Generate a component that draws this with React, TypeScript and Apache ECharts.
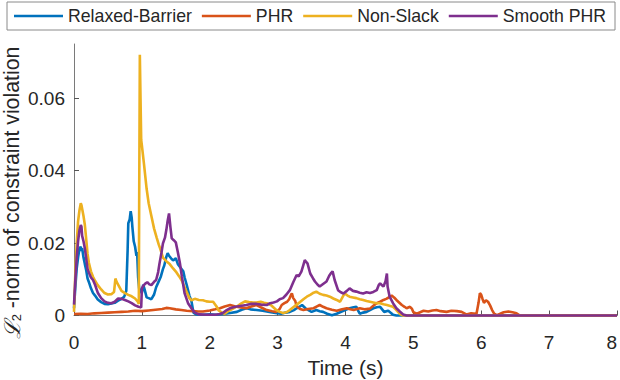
import React, { useEffect, useRef } from "react";
import * as echarts from "echarts";

const SERIES_NAMES = ["Relaxed-Barrier", "PHR", "Non-Slack", "Smooth PHR"];
const COLORS = ["#0072BD", "#D95319", "#EDB120", "#7E2F8E"];
const X_TICKS = [0, 1, 2, 3, 4, 5, 6, 7, 8];
const Y_TICKS = [0, 0.02, 0.04, 0.06];

const relaxedBarrier: [number, number][] = [
  [0, 0.002], [0.02, 0.008], [0.04, 0.013], [0.06, 0.016], [0.08, 0.0185], [0.1, 0.019], [0.11, 0.0178], [0.12, 0.0186],
  [0.14, 0.016], [0.16, 0.0142], [0.18, 0.0125], [0.2, 0.0102], [0.22, 0.0092], [0.25, 0.0075], [0.28, 0.0062], [0.31, 0.0055],
  [0.35, 0.0044], [0.4, 0.0037], [0.45, 0.0032], [0.5, 0.0031], [0.55, 0.0033], [0.6, 0.0035], [0.65, 0.0041], [0.7, 0.0046],
  [0.74, 0.0052], [0.77, 0.0068], [0.79, 0.018], [0.8, 0.0255], [0.82, 0.0265], [0.835, 0.0288], [0.85, 0.027], [0.86, 0.0245],
  [0.88, 0.0205], [0.9, 0.019], [0.92, 0.0165], [0.93, 0.0175], [0.945, 0.0105], [0.96, 0.0075], [0.98, 0.0068], [1.0, 0.0062],
  [1.02, 0.0085], [1.04, 0.0072], [1.07, 0.005], [1.1, 0.0048], [1.14, 0.0045], [1.18, 0.0058], [1.21, 0.0078], [1.25, 0.0095],
  [1.28, 0.0108], [1.31, 0.0128], [1.33, 0.0138], [1.36, 0.0162], [1.38, 0.0172], [1.4, 0.0165], [1.43, 0.0158], [1.46, 0.0152],
  [1.5, 0.0158], [1.53, 0.0142], [1.57, 0.0132], [1.61, 0.0122], [1.63, 0.0105], [1.66, 0.0085], [1.7, 0.0055], [1.73, 0.004],
  [1.76, 0.0008], [1.8, 0.0003], [1.9, 0.0002], [2.0, 0.0003], [2.1, 0.0002], [2.2, 0.0004], [2.3, 0.0007], [2.4, 0.001],
  [2.47, 0.0016], [2.54, 0.002], [2.6, 0.0017], [2.69, 0.0015], [2.78, 0.0013], [2.84, 0.0011], [2.9, 0.0009], [2.99, 0.0006],
  [3.05, 0.0005], [3.12, 0.0008], [3.18, 0.001], [3.24, 0.0015], [3.28, 0.002], [3.33, 0.0025], [3.36, 0.0029], [3.41, 0.002],
  [3.46, 0.0014], [3.5, 0.001], [3.57, 0.0015], [3.62, 0.0012], [3.67, 0.001], [3.73, 0.0005], [3.8, 0.0001], [3.87, 0.0005],
  [3.92, 0.0009], [3.97, 0.0013], [4.02, 0.0017], [4.06, 0.002], [4.12, 0.0023], [4.16, 0.0024], [4.19, 0.0012], [4.21, 0.0005],
  [4.26, 0.0008], [4.31, 0.001], [4.36, 0.0015], [4.41, 0.002], [4.46, 0.0023], [4.51, 0.0024], [4.54, 0.0017], [4.57, 0.001],
  [4.63, 0.0013], [4.67, 0.0007], [4.7, 0.0002], [4.75, 0], [8, 0],
];

const phr: [number, number][] = [
  [0, 0.0004], [0.1, 0.0005], [0.2, 0.0004], [0.3, 0.0006], [0.4, 0.0007], [0.5, 0.0008], [0.6, 0.0009], [0.7, 0.001],
  [0.8, 0.0011], [0.9, 0.0013], [1.0, 0.0012], [1.1, 0.0014], [1.2, 0.0016], [1.3, 0.0018], [1.36, 0.0021], [1.41, 0.002],
  [1.5, 0.0017], [1.58, 0.0015], [1.66, 0.0013], [1.75, 0.0012], [1.83, 0.0011], [1.9, 0.0011], [2.0, 0.0014], [2.08, 0.0017],
  [2.15, 0.002], [2.22, 0.0025], [2.3, 0.0029], [2.38, 0.0025], [2.46, 0.0022], [2.54, 0.002], [2.6, 0.0024], [2.69, 0.0029],
  [2.76, 0.0022], [2.84, 0.0015], [2.92, 0.0012], [2.98, 0.001], [3.03, 0.0018], [3.06, 0.0029], [3.1, 0.0034], [3.14, 0.0038],
  [3.17, 0.0045], [3.2, 0.0058], [3.21, 0.0061], [3.23, 0.0048], [3.26, 0.004], [3.28, 0.0025], [3.33, 0.0018], [3.38, 0.0015],
  [3.45, 0.0018], [3.53, 0.002], [3.58, 0.0025], [3.62, 0.0029], [3.67, 0.0024], [3.72, 0.002], [3.8, 0.0016], [3.87, 0.0013],
  [3.95, 0.0017], [4.02, 0.002], [4.07, 0.0017], [4.12, 0.0015], [4.17, 0.0018], [4.21, 0.002], [4.28, 0.0017], [4.36, 0.0019],
  [4.41, 0.0027], [4.46, 0.0034], [4.51, 0.0038], [4.56, 0.0043], [4.6, 0.0046], [4.63, 0.0049], [4.68, 0.0055], [4.72, 0.0049],
  [4.75, 0.0043], [4.79, 0.0036], [4.83, 0.0029], [4.87, 0.0024], [4.9, 0.002], [4.95, 0.0024], [4.98, 0.0018], [5.0, 0.0009],
  [5.05, 0.0005], [5.1, 0.0009], [5.15, 0.0013], [5.22, 0.0011], [5.28, 0.0014], [5.34, 0.0015], [5.4, 0.0012], [5.49, 0.001],
  [5.56, 0.0013], [5.64, 0.0012], [5.71, 0.001], [5.78, 0.0003], [5.85, 0.0006], [5.93, 0.0005], [5.96, 0.0035], [5.98, 0.0062],
  [6.0, 0.0057], [6.02, 0.0045], [6.04, 0.0035], [6.07, 0.0042], [6.1, 0.0038], [6.13, 0.0028], [6.16, 0.0015], [6.19, 0.0005],
  [6.23, 0.0001], [6.28, 0.0005], [6.33, 0.0009], [6.4, 0.0011], [6.46, 0.0009], [6.52, 0.0006], [6.57, 0], [8, 0],
];

const nonSlack: [number, number][] = [
  [0, 0.001], [0.02, 0.012], [0.04, 0.02], [0.06, 0.026], [0.08, 0.029], [0.1, 0.031], [0.11, 0.0305], [0.12, 0.0295],
  [0.14, 0.0275], [0.16, 0.025], [0.18, 0.021], [0.2, 0.017], [0.22, 0.0145], [0.25, 0.0122], [0.28, 0.0107], [0.31, 0.0096],
  [0.35, 0.0084], [0.4, 0.0072], [0.45, 0.0062], [0.5, 0.0058], [0.55, 0.0059], [0.59, 0.0065], [0.61, 0.0102], [0.63, 0.0092],
  [0.66, 0.0082], [0.7, 0.0068], [0.75, 0.0062], [0.8, 0.0057], [0.85, 0.0053], [0.9, 0.0047], [0.94, 0.0038], [0.955, 0.0032],
  [0.96, 0.03], [0.97, 0.072], [0.98, 0.06], [0.99, 0.0485], [1.0, 0.047], [1.03, 0.042], [1.07, 0.035], [1.1, 0.031],
  [1.14, 0.0275], [1.18, 0.024], [1.22, 0.0214], [1.25, 0.0195], [1.27, 0.0185], [1.31, 0.016], [1.36, 0.015], [1.41, 0.0142],
  [1.46, 0.013], [1.51, 0.0119], [1.55, 0.0108], [1.59, 0.0096], [1.62, 0.0082], [1.66, 0.0065], [1.7, 0.0048], [1.73, 0.0042],
  [1.78, 0.0046], [1.84, 0.0043], [1.9, 0.0042], [1.95, 0.0039], [2.0, 0.0038], [2.05, 0.0038], [2.1, 0.0025], [2.13, 0.0014],
  [2.18, 0.0008], [2.22, 0.0005], [2.27, 0.0012], [2.33, 0.0018], [2.4, 0.0025], [2.46, 0.0033], [2.52, 0.0039], [2.58, 0.0037],
  [2.64, 0.0036], [2.69, 0.0036], [2.75, 0.0038], [2.8, 0.0035], [2.84, 0.0034], [2.9, 0.0029], [2.94, 0.0022], [2.98, 0.0015],
  [3.03, 0.001], [3.08, 0.0007], [3.13, 0.0009], [3.18, 0.0015], [3.23, 0.0023], [3.28, 0.003], [3.33, 0.0037], [3.38, 0.0045],
  [3.43, 0.0052], [3.48, 0.0057], [3.53, 0.0063], [3.57, 0.0066], [3.62, 0.006], [3.67, 0.0057], [3.72, 0.0055], [3.77, 0.0052],
  [3.82, 0.0047], [3.87, 0.0043], [3.92, 0.0038], [3.96, 0.0052], [3.99, 0.0061], [4.03, 0.0055], [4.06, 0.0052], [4.11, 0.005],
  [4.16, 0.0048], [4.21, 0.0045], [4.26, 0.0043], [4.31, 0.004], [4.36, 0.0038], [4.41, 0.0036], [4.46, 0.0034], [4.51, 0.0034],
  [4.56, 0.0031], [4.61, 0.0029], [4.66, 0.0026], [4.7, 0.0024], [4.74, 0.0017], [4.77, 0.0011], [4.81, 0.0003], [4.85, 0], [8, 0],
];

const smoothPhr: [number, number][] = [
  [0, 0.003], [0.02, 0.01], [0.04, 0.016], [0.06, 0.0205], [0.08, 0.0235], [0.1, 0.025], [0.11, 0.0245], [0.12, 0.022],
  [0.14, 0.0205], [0.16, 0.0185], [0.18, 0.0158], [0.2, 0.0128], [0.22, 0.0118], [0.25, 0.0105], [0.28, 0.0098], [0.31, 0.0085],
  [0.35, 0.0063], [0.4, 0.0048], [0.45, 0.0039], [0.5, 0.0035], [0.55, 0.0034], [0.6, 0.0038], [0.65, 0.0047], [0.7, 0.0046],
  [0.75, 0.0043], [0.8, 0.0039], [0.85, 0.0034], [0.9, 0.0028], [0.95, 0.0024], [0.98, 0.0023], [0.99, 0.0022], [1.0, 0.0075],
  [1.02, 0.0082], [1.05, 0.0088], [1.08, 0.0092], [1.11, 0.0086], [1.14, 0.0084], [1.18, 0.0093], [1.21, 0.0098], [1.24, 0.012],
  [1.26, 0.0144], [1.29, 0.0175], [1.31, 0.0199], [1.34, 0.0215], [1.36, 0.0236], [1.38, 0.0262], [1.4, 0.0282], [1.42, 0.0245],
  [1.44, 0.0213], [1.47, 0.0208], [1.5, 0.0202], [1.53, 0.0175], [1.56, 0.0145], [1.59, 0.0107], [1.63, 0.0061], [1.68, 0.0034],
  [1.73, 0.002], [1.78, 0.0008], [1.84, 0.0003], [1.95, 0.0002], [2.08, 0.0002], [2.15, 0.0004], [2.2, 0.0008], [2.25, 0.0015],
  [2.3, 0.002], [2.35, 0.0023], [2.4, 0.0025], [2.47, 0.0027], [2.54, 0.0029], [2.6, 0.0032], [2.69, 0.0032], [2.76, 0.003],
  [2.84, 0.0029], [2.89, 0.0034], [2.94, 0.0036], [2.99, 0.0039], [3.03, 0.0045], [3.08, 0.0048], [3.13, 0.0058], [3.18, 0.007],
  [3.23, 0.0092], [3.28, 0.0112], [3.31, 0.0108], [3.35, 0.0121], [3.38, 0.014], [3.4, 0.0153], [3.42, 0.0148], [3.44, 0.0144],
  [3.48, 0.0116], [3.52, 0.0103], [3.55, 0.0094], [3.59, 0.0085], [3.62, 0.008], [3.67, 0.0087], [3.72, 0.0094], [3.76, 0.011],
  [3.79, 0.0118], [3.81, 0.0122], [3.84, 0.0098], [3.89, 0.007], [3.93, 0.0064], [3.97, 0.0061], [4.02, 0.0068], [4.06, 0.0075],
  [4.11, 0.0068], [4.16, 0.0066], [4.21, 0.0063], [4.26, 0.0061], [4.31, 0.0064], [4.36, 0.0062], [4.41, 0.0065], [4.46, 0.007],
  [4.49, 0.0084], [4.51, 0.0089], [4.54, 0.0083], [4.56, 0.008], [4.59, 0.0095], [4.61, 0.0116], [4.62, 0.008], [4.65, 0.0052],
  [4.7, 0.0034], [4.75, 0.002], [4.8, 0.0011], [4.85, 0.0003], [4.9, 0], [8, 0],
];

const SERIES_DATA = [relaxedBarrier, phr, nonSlack, smoothPhr];

const TEXT = "#262626";
const AXIS = "#7a7a7a";
const FONT = "'Liberation Sans', Arial, Helvetica, sans-serif";

export default function App() {
  const ref = useRef<HTMLDivElement>(null);
  useEffect(() => {
    document.body.style.margin = "0";
    const chart = echarts.init(ref.current!, undefined, { renderer: "svg" });
    chart.setOption({
      animation: false,
      backgroundColor: "#ffffff",
      textStyle: { fontFamily: FONT },
      grid: { left: 74, right: 3, top: 44, bottom: 64.5, containLabel: false, outerBoundsMode: "none" },
      legend: {
        left: 7,
        top: 2,
        padding: [5, 9, 5, 7],
        itemGap: 10,
        itemWidth: 49,
        itemHeight: 2.5,
        icon: "rect",
        borderColor: "#8a8a8a",
        borderWidth: 1,
        backgroundColor: "#ffffff",
        textStyle: { color: TEXT, fontSize: 17.7, fontFamily: FONT },
        data: SERIES_NAMES,
      },
      xAxis: {
        type: "value",
        min: 0,
        max: 8,
        interval: 1,
        name: "Time (s)",
        nameLocation: "middle",
        nameGap: 41,
        nameTextStyle: { color: TEXT, fontSize: 21, fontFamily: FONT },
        axisLine: { show: true, onZero: false, lineStyle: { color: AXIS, width: 1 } },
        axisTick: { show: true, inside: true, length: 5, lineStyle: { color: "#555" }, customValues: X_TICKS },
        axisLabel: {
          color: TEXT,
          fontSize: 19,
          margin: 17,
          fontFamily: FONT,
          customValues: X_TICKS,
          alignMaxLabel: "right",
        },
        splitLine: { show: false },
      },
      yAxis: {
        type: "value",
        min: 0,
        max: 0.075,
        interval: 0.02,
        axisLine: { show: true, lineStyle: { color: AXIS, width: 1 } },
        axisTick: { show: true, inside: true, length: 5, lineStyle: { color: "#555" }, customValues: Y_TICKS },
        axisLabel: {
          color: TEXT,
          fontSize: 19,
          margin: 9,
          fontFamily: FONT,
          customValues: Y_TICKS,
          formatter: (v: number) => (v === 0 ? "0" : v.toFixed(2)),
        },
        splitLine: { show: false },
      },
      graphic: [
        {
          type: "text",
          x: 12,
          y: 193,
          rotation: Math.PI / 2,
          style: {
            text: "{l|ℒ}{s|2}{n| -norm of constraint violation}",
            textAlign: "center",
            textVerticalAlign: "middle",
            fill: TEXT,
            rich: {
              l: { fontSize: 22, fontFamily: "'DejaVu Serif', serif", fontStyle: "italic", fill: TEXT },
              s: { fontSize: 13, fontFamily: FONT, fill: TEXT, verticalAlign: "bottom", padding: [8, 0, 0, 0] },
              n: { fontSize: 21.3, fontFamily: FONT, fill: TEXT },
            },
          },
        },
      ],
      series: SERIES_NAMES.map((name, i) => ({
        name,
        type: "line",
        data: SERIES_DATA[i],
        showSymbol: false,
        symbol: "none",
        lineStyle: { color: COLORS[i], width: 2.6 },
        itemStyle: { color: COLORS[i] },
        clip: false,
      })),
    });
    return () => chart.dispose();
  }, []);
  return <div ref={ref} style={{ position: "absolute", left: 0, top: 0, width: 620, height: 380 }} />;
}
